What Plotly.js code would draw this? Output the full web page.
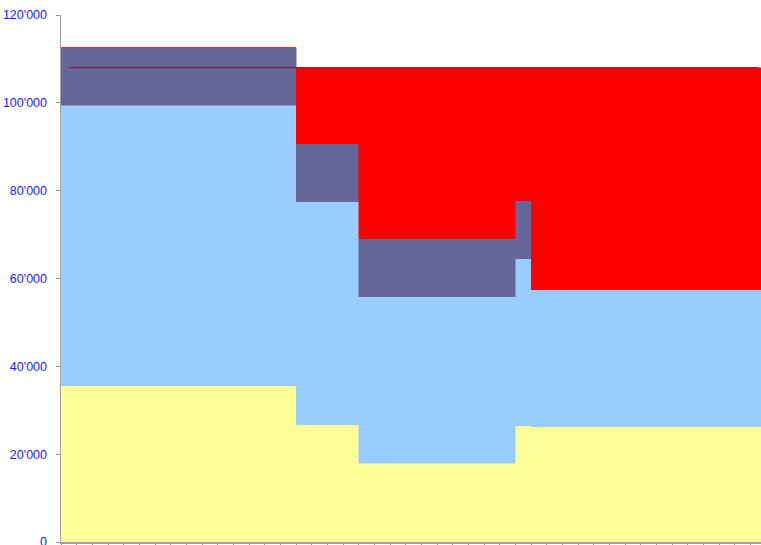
<!DOCTYPE html>
<html>
<head>
<meta charset="utf-8">
<script src="https://cdn.plot.ly/plotly-3.0.1.min.js"></script>
<style>html,body{margin:0;padding:0;background:#fff;}#chart{width:761px;height:545px;}</style>
</head>
<body>
<div id="chart"></div>
<script>
// 45 categories (columns with zero gap)
var categories = [0.5,1.5,2.5,3.5,4.5,5.5,6.5,7.5,8.5,9.5,10.5,11.5,12.5,13.5,14.5,
  15.5,16.5,17.5,18.5,
  19.5,20.5,21.5,22.5,23.5,24.5,25.5,26.5,27.5,28.5,
  29.5,
  30.5,31.5,32.5,33.5,34.5,35.5,36.5,37.5,38.5,39.5,40.5,41.5,42.5,43.5,44.5];

var yellowVals = [35600,35600,35600,35600,35600,35600,35600,35600,35600,35600,35600,35600,35600,35600,35600,
  26700,26700,26700,26700,
  17900,17900,17900,17900,17900,17900,17900,17900,17900,17900,
  26500,
  26300,26300,26300,26300,26300,26300,26300,26300,26300,26300,26300,26300,26300,26300,26300];

var lightBlueVals = [63800,63800,63800,63800,63800,63800,63800,63800,63800,63800,63800,63800,63800,63800,63800,
  50800,50800,50800,50800,
  38000,38000,38000,38000,38000,38000,38000,38000,38000,38000,
  38000,
  31100,31100,31100,31100,31100,31100,31100,31100,31100,31100,31100,31100,31100,31100,31100];

var darkBlueVals = [13100,13100,13100,13100,13100,13100,13100,13100,13100,13100,13100,13100,13100,13100,13100,
  13200,13200,13200,13200,
  13100,13100,13100,13100,13100,13100,13100,13100,13100,13100,
  13200,
  0,0,0,0,0,0,0,0,0,0,0,0,0,0,0];

var redVals = [0,0,0,0,0,0,0,0,0,0,0,0,0,0,0,
  17300,17300,17300,17300,
  39000,39000,39000,39000,39000,39000,39000,39000,39000,39000,
  30300,
  50600,50600,50600,50600,50600,50600,50600,50600,50600,50600,50600,50600,50600,50600,50600];

var lineVals = [108000,108000,108000,108000,108000,108000,108000,108000,108000,108000,108000,108000,108000,108000,108000,
  108000,108000,108000,108000,
  108000,108000,108000,108000,108000,108000,108000,108000,108000,108000,
  108000,
  108000,108000,108000,108000,108000,108000,108000,108000,108000,108000,108000,108000,108000,108000,108000];

var yTickVals = [0,20000,40000,60000,80000,100000,120000];
var yTickText = ["0","20'000","40'000","60'000","80'000","100'000","120'000"];

function barTrace(vals, color){
  return {type:'bar', x:categories, y:vals, width:1,
    marker:{color:color, line:{color:color, width:0.5}},
    hoverinfo:'skip', showlegend:false};
}

var data = [
  barTrace(yellowVals, '#FFFF99'),
  barTrace(lightBlueVals, '#99CCFF'),
  barTrace(darkBlueVals, '#666699'),
  barTrace(redVals, '#FF0000'),
  {type:'scatter', mode:'lines', x:categories, y:lineVals,
   line:{color:'#7a1030', width:1}, hoverinfo:'skip', showlegend:false}
];

var layout = {
  width:761, height:545,
  margin:{l:61, r:0, t:15, b:3},
  paper_bgcolor:'#ffffff', plot_bgcolor:'#ffffff',
  barmode:'stack', bargap:0,
  showlegend:false,
  xaxis:{range:[0,44.67], tick0:0, dtick:1, ticks:'outside', ticklen:4, tickcolor:'#909090',
    showticklabels:false, showgrid:false, zeroline:false, showline:true, linecolor:'#a0a0a0', linewidth:1.5, fixedrange:true},
  yaxis:{range:[0,120000], tickvals:yTickVals, ticktext:yTickText, ticks:'outside', ticklen:4,
    tickcolor:'#909090', showgrid:true, gridcolor:'#a0a0a0', gridwidth:1.5, zeroline:false,
    showline:true, linecolor:'#a0a0a0', linewidth:1.5, ticklabelstandoff:6, ticklabeloverflow:'allow',
    tickfont:{family:'Liberation Sans, Arial, sans-serif', size:12.5, color:'#1a1aff'}, fixedrange:true}
};

Plotly.newPlot('chart', data, layout, {staticPlot:true, displayModeBar:false});
</script>
</body>
</html>
